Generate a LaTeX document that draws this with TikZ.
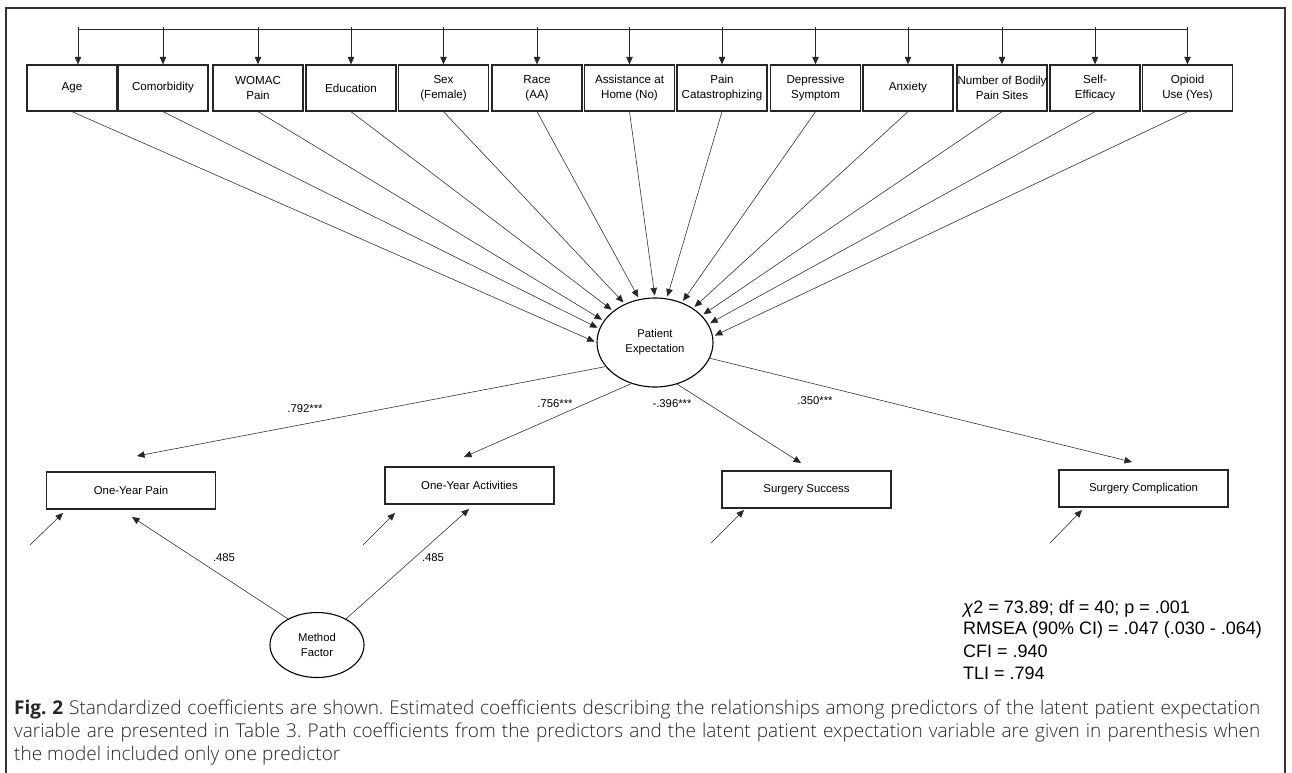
\documentclass[tikz,border=0pt]{standalone}
\usepackage{fontspec}
\setmainfont{Liberation Sans}
\newfontfamily\capfont{Open Sans Light}
\newfontfamily\capbold{Open Sans}
\usetikzlibrary{shapes.geometric,arrows.meta}
\frenchspacing
\begin{document}
\begin{tikzpicture}[x=1pt,y=-1pt,
 every node/.style={inner sep=1pt},
 box/.style={draw=black!85,line width=1.3pt,minimum width=90pt,minimum height=46pt,inner sep=0.5pt,align=center,font=\fontsize{11.6}{15}\selectfont},
 obox/.style={draw=black!85,line width=1.3pt,minimum width=169pt,minimum height=37pt,font=\fontsize{11.4}{14.5}\selectfont},
 lat/.style={ellipse,draw=black,line width=1.1pt,inner sep=0pt,align=center,font=\fontsize{11.3}{15}\selectfont},
 arr/.style={-{Triangle[length=7.5pt,width=6.5pt]},line width=0.55pt,draw=black!85},
 coef/.style={font=\fontsize{11.3}{13}\selectfont},
 stat/.style={anchor=west,font=\fontsize{18}{21}\selectfont},
 captext/.style={anchor=west,inner sep=0pt,text=black!85,font=\capfont\fontsize{19}{23}\selectfont},
]
\useasboundingbox (0,0) rectangle (1292,773);
\draw[line width=1.4pt,black!80] (6,780) -- (6,8) -- (1285,8) -- (1285,780);

% predictor boxes
\node[box] (b1)  at (72,88)    {Age};
\node[box] (b2)  at (163,88)   {Comorbidity};
\node[box] (b3)  at (258,88)   {WOMAC\\Pain};
\node[box] (b4)  at (351,88)   {Education};
\node[box] (b5)  at (443.5,88) {Sex\\(Female)};
\node[box] (b6)  at (537,88)   {Race\\(AA)};
\node[box] (b7)  at (629.5,88) {Assistance at\\Home (No)};
\node[box] (b8)  at (722,88)   {Pain\\Catastrophizing};
\node[box] (b9)  at (815.5,88) {Depressive\\Symptom};
\node[box] (b10) at (908,88)   {Anxiety};
\node[box] (b11) at (1002,88)  {Number of Bodily\\Pain Sites};
\node[box] (b12) at (1095,88)  {Self-\\Efficacy};
\node[box] (b13) at (1187.5,88){Opioid\\Use (Yes)};

% top correlation line
\draw[line width=0.9pt,black!85] ([xshift=6pt]b1.north |- 0,29) -- (b13.north |- 0,29);
\draw[arr] ([xshift=6pt]b1.north |- 0,27) -- ([xshift=6pt]b1.north);
\foreach \i in {2,...,13}
  \draw[arr] (b\i.north |- 0,27) -- (b\i.north);

% latent variable
\node[lat,minimum width=116pt,minimum height=89pt] (pe) at (655,342.5) {Patient\\Expectation};

\foreach \i/\a in {1/180,2/166,3/157,4/143,5/128,6/110,7/90,8/75,9/56,10/42,11/30,12/19,13/6}
  \draw[arr,shorten >=2pt] (b\i.south) -- (pe.\a);

% outcomes
\node[obox] (o1) at (131,490.5)   {One-Year Pain};
\node[obox] (o2) at (469.5,485.5) {One-Year Activities};
\node[obox] (o3) at (806.5,489.5) {Surgery Success};
\node[obox] (o4) at (1143.5,488.5){Surgery Complication};

\coordinate (t1) at (137,456);
\coordinate (t2) at (464,457);
\coordinate (t3) at (801,463);
\coordinate (t4) at (1132,462);
\draw[arr] (pe.206) -- (t1);
\draw[arr] (pe.240) -- (t2);
\draw[arr] (pe.298) -- (t3);
\draw[arr] (pe.344) -- (t4);

\node[coef] (l1) at (305,409) {.792***};
\node[coef] (l2) at (555,404) {.756***};
\node[coef] (l3) at (672,404) {-.396***};
\node[coef] (l4) at (815,401) {.350***};

% error terms
\coordinate (e1s) at (30,545);   \coordinate (e1t) at (63,513);
\coordinate (e2s) at (363,545);  \coordinate (e2t) at (395,513);
\coordinate (e3s) at (711,543);  \coordinate (e3t) at (744,510);
\coordinate (e4s) at (1050,543); \coordinate (e4t) at (1082,510);
\draw[arr] (e1s) -- (e1t);
\draw[arr] (e2s) -- (e2t);
\draw[arr] (e3s) -- (e3t);
\draw[arr] (e4s) -- (e4t);

% method factor
\node[lat,minimum width=94pt,minimum height=65pt] (mf) at (317,645) {Method\\Factor};
\coordinate (m1) at (132,517);
\coordinate (m2) at (469,509);
\draw[arr] (mf.138) -- (m1);
\draw[arr] (mf.42) -- (m2);
\node[coef] (l5) at (224,558) {.485};
\node[coef] (l6) at (433,558) {.485};

% fit statistics
\node[stat] (s1) at (962,609) {\textit{χ}2 = 73.89; df = 40; p = .001};
\node[stat] (s2) at (962,630) {RMSEA (90\% CI) = .047 (.030 - .064)};
\node[stat] (s3) at (962,651) {CFI = .940};
\node[stat] (s4) at (962,673) {TLI = .794};

% caption
\node[captext] (c1) at (14,710) {\makebox[1246pt][s]{{\capbold\bfseries Fig. 2} Standardized coefficients are shown. Estimated coefficients describing the relationships among predictors of the latent patient expectation}};
\node[captext] (c2) at (14,733) {\makebox[1246pt][s]{variable are presented in Table 3. Path coefficients from the predictors and the latent patient expectation variable are given in parenthesis when}};
\node[captext] (c3) at (14,756) {the model included only one predictor};
\end{tikzpicture}
\end{document}
